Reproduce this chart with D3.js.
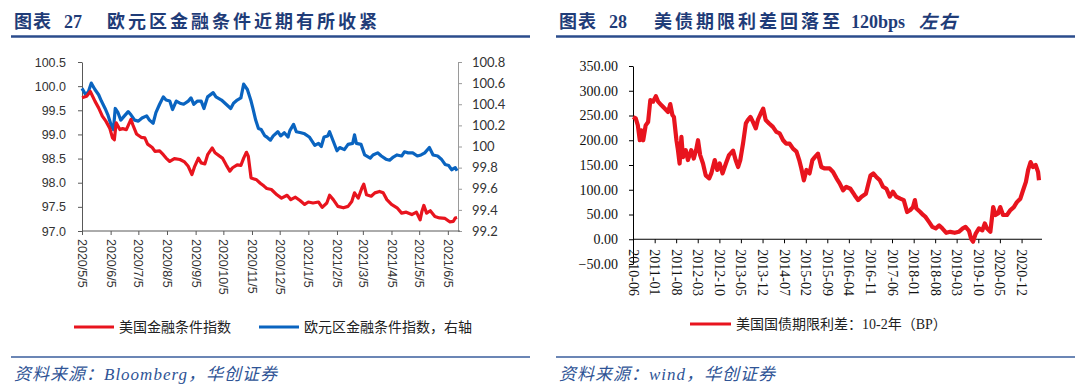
<!DOCTYPE html>
<html lang="zh">
<head>
<meta charset="UTF-8">
<title>图表 27 / 图表 28</title>
<script src="https://d3js.org/d3.v7.min.js"></script>
<style>
  body {
    margin: 0;
    background: #fff;
  }
  .title {
    font-family: "Liberation Serif", "Noto Sans CJK SC", serif;
    font-weight: bold;
    font-size: 18px;
    fill: #1f3c78;
  }
  .source {
    font-family: "Liberation Serif", "Noto Sans CJK SC", serif;
    font-style: italic;
    font-size: 17px;
    letter-spacing: 1px;
    fill: #2f5496;
  }
  .legend {
    font-family: "Liberation Serif", "Noto Sans CJK SC", serif;
    font-size: 14px;
    fill: #222;
  }
</style>
</head>
<body>
<svg id="chart" width="1080" height="384"></svg>

<script>
// ---- data ----

// 图表27: 美国金融条件指数 (left axis)
const usDates = ["2020-05-05","2020-05-10","2020-05-14","2020-05-19","2020-05-23","2020-05-27","2020-05-31","2020-06-04","2020-06-07","2020-06-09","2020-06-11","2020-06-15","2020-06-18","2020-06-22","2020-06-27","2020-06-29","2020-07-03","2020-07-08","2020-07-12","2020-07-15","2020-07-20","2020-07-23","2020-07-28","2020-08-01","2020-08-04","2020-08-08","2020-08-13","2020-08-19","2020-08-24","2020-08-28","2020-09-01","2020-09-04","2020-09-08","2020-09-11","2020-09-15","2020-09-18","2020-09-23","2020-09-26","2020-10-01","2020-10-04","2020-10-08","2020-10-12","2020-10-15","2020-10-20","2020-10-24","2020-10-27","2020-10-30","2020-11-01","2020-11-04","2020-11-10","2020-11-14","2020-11-18","2020-11-21","2020-11-26","2020-12-02","2020-12-07","2020-12-13","2020-12-17","2020-12-22","2020-12-27","2021-01-01","2021-01-05","2021-01-10","2021-01-16","2021-01-20","2021-01-25","2021-01-28","2021-02-01","2021-02-06","2021-02-12","2021-02-17","2021-02-21","2021-02-24","2021-02-28","2021-03-04","2021-03-06","2021-03-09","2021-03-14","2021-03-18","2021-03-23","2021-03-27","2021-03-31","2021-04-05","2021-04-11","2021-04-16","2021-04-21","2021-04-27","2021-05-02","2021-05-06","2021-05-08","2021-05-10","2021-05-13","2021-05-17","2021-05-22","2021-05-27","2021-06-02","2021-06-07","2021-06-11","2021-06-13","2021-06-15"];
const usFci = [99.76,99.79,99.89,99.69,99.55,99.38,99.27,99.13,98.93,98.89,99.24,99.10,99.12,99.10,99.31,99.20,99.01,98.94,98.93,98.80,98.73,98.65,98.66,98.58,98.51,98.44,98.50,98.48,98.43,98.34,98.17,98.34,98.51,98.41,98.39,98.58,98.72,98.62,98.55,98.51,98.37,98.24,98.31,98.37,98.36,98.51,98.63,98.55,98.10,98.06,97.99,97.93,97.88,97.86,97.75,97.68,97.74,97.65,97.70,97.63,97.55,97.60,97.58,97.60,97.49,97.58,97.74,97.65,97.51,97.48,97.51,97.61,97.79,97.68,97.89,97.97,97.75,97.72,97.79,97.82,97.79,97.65,97.55,97.48,97.37,97.39,97.34,97.39,97.23,97.41,97.53,97.37,97.42,97.30,97.27,97.26,97.19,97.20,97.27,97.28];

// 图表27: 欧元区金融条件指数 (right axis)
const euDates = ["2020-05-05","2020-05-09","2020-05-12","2020-05-15","2020-05-19","2020-05-23","2020-05-26","2020-05-30","2020-06-02","2020-06-06","2020-06-08","2020-06-10","2020-06-13","2020-06-16","2020-06-19","2020-06-24","2020-06-27","2020-07-01","2020-07-05","2020-07-09","2020-07-14","2020-07-17","2020-07-21","2020-07-24","2020-07-28","2020-08-01","2020-08-04","2020-08-08","2020-08-11","2020-08-15","2020-08-19","2020-08-23","2020-08-28","2020-08-31","2020-09-03","2020-09-07","2020-09-11","2020-09-14","2020-09-18","2020-09-24","2020-09-27","2020-10-03","2020-10-08","2020-10-13","2020-10-16","2020-10-20","2020-10-24","2020-10-27","2020-10-31","2020-11-04","2020-11-06","2020-11-09","2020-11-12","2020-11-15","2020-11-19","2020-11-21","2020-11-25","2020-11-28","2020-12-03","2020-12-06","2020-12-10","2020-12-14","2020-12-16","2020-12-20","2020-12-23","2020-12-28","2021-01-01","2021-01-06","2021-01-09","2021-01-12","2021-01-16","2021-01-19","2021-01-22","2021-01-26","2021-01-28","2021-02-01","2021-02-05","2021-02-08","2021-02-13","2021-02-17","2021-02-22","2021-02-24","2021-02-26","2021-03-03","2021-03-07","2021-03-13","2021-03-16","2021-03-21","2021-03-25","2021-03-30","2021-04-03","2021-04-07","2021-04-11","2021-04-16","2021-04-19","2021-04-23","2021-04-28","2021-05-03","2021-05-07","2021-05-11","2021-05-16","2021-05-20","2021-05-25","2021-05-29","2021-06-02","2021-06-06","2021-06-09","2021-06-13","2021-06-15"];
const euFci = [100.55,100.49,100.52,100.60,100.54,100.49,100.43,100.36,100.30,100.19,100.16,100.36,100.32,100.25,100.28,100.33,100.30,100.25,100.24,100.27,100.29,100.25,100.22,100.32,100.40,100.47,100.44,100.43,100.35,100.43,100.41,100.40,100.43,100.46,100.40,100.43,100.43,100.36,100.47,100.51,100.47,100.44,100.40,100.36,100.41,100.44,100.46,100.59,100.54,100.43,100.36,100.25,100.17,100.16,100.10,100.09,100.06,100.10,100.14,100.10,100.13,100.09,100.15,100.21,100.14,100.13,100.12,100.09,100.05,100.01,100.03,100.00,100.09,100.10,100.14,100.05,99.96,99.99,99.97,100.02,100.03,100.11,100.03,100.02,99.92,99.89,99.92,99.94,99.91,99.88,99.87,99.90,99.92,99.91,99.95,99.94,99.94,99.91,99.92,99.94,99.99,99.92,99.91,99.88,99.83,99.82,99.78,99.80,99.77];

const fciTickDates = ["2020-05-05","2020-06-05","2020-07-05","2020-08-05","2020-09-05","2020-10-05","2020-11-05","2020-12-05","2021-01-05","2021-02-05","2021-03-05","2021-04-05","2021-05-05","2021-06-05"];
const fciLeftTicks = [97.0, 97.5, 98.0, 98.5, 99.0, 99.5, 100.0, 100.5];
const fciRightTicks = [99.2, 99.4, 99.6, 99.8, 100, 100.2, 100.4, 100.6, 100.8];

// 图表28: 美国国债期限利差 10-2年 (BP)
const spreadDates = ["2010-06-01","2010-06-28","2010-07-19","2010-08-07","2010-08-22","2010-09-10","2010-10-04","2010-10-28","2010-11-19","2010-12-16","2011-01-13","2011-02-04","2011-03-07","2011-04-10","2011-05-13","2011-06-04","2011-06-25","2011-07-10","2011-08-04","2011-08-19","2011-09-04","2011-09-22","2011-10-07","2011-11-04","2011-11-25","2011-12-28","2012-01-22","2012-02-15","2012-03-04","2012-03-25","2012-04-22","2012-05-19","2012-06-22","2012-07-13","2012-08-16","2012-09-10","2012-10-04","2012-11-01","2012-12-04","2013-01-04","2013-02-13","2013-03-10","2013-04-04","2013-04-25","2013-05-22","2013-06-19","2013-07-10","2013-08-04","2013-08-28","2013-09-25","2013-10-16","2013-11-13","2013-12-07","2014-01-01","2014-02-04","2014-03-13","2014-04-16","2014-05-19","2014-06-22","2014-07-22","2014-08-25","2014-09-28","2014-11-01","2014-11-28","2014-12-19","2015-01-13","2015-02-07","2015-03-10","2015-04-07","2015-05-01","2015-06-01","2015-07-04","2015-08-07","2015-09-25","2015-10-28","2015-12-01","2016-01-01","2016-02-04","2016-03-07","2016-04-16","2016-05-28","2016-07-01","2016-08-04","2016-09-16","2016-10-07","2016-11-01","2016-11-28","2016-12-28","2017-02-01","2017-03-04","2017-04-07","2017-05-10","2017-06-10","2017-07-13","2017-08-22","2017-09-25","2017-10-28","2017-11-28","2017-12-25","2018-01-13","2018-01-28","2018-03-07","2018-04-04","2018-04-28","2018-06-01","2018-07-04","2018-08-07","2018-09-10","2018-10-10","2018-11-19","2018-12-28","2019-02-10","2019-03-22","2019-05-01","2019-05-28","2019-07-01","2019-07-22","2019-08-10","2019-09-04","2019-10-07","2019-11-10","2019-12-04","2019-12-25","2020-01-28","2020-02-25","2020-03-19","2020-04-13","2020-05-04","2020-06-01","2020-07-10","2020-08-13","2020-09-16","2020-10-16","2020-11-19","2020-12-16","2021-01-13","2021-02-04","2021-02-28","2021-03-22","2021-04-19","2021-05-13","2021-05-22"];
const spread = [247,244,230,200,220,200,230,237,281,278,289,278,271,264,257,273,251,247,200,180,153,207,166,180,160,180,163,181,200,170,153,129,123,133,160,140,153,133,153,170,179,160,146,160,193,234,241,247,237,224,241,254,264,241,234,227,217,214,200,193,193,183,177,160,143,119,140,133,160,166,173,146,143,143,136,123,113,99,106,102,89,79,86,92,109,129,133,126,119,106,102,86,96,86,82,79,55,59,65,79,62,55,49,45,35,25,22,28,22,13,15,13,15,22,25,17,1,-5,11,22,18,32,22,15,65,49,52,65,49,49,59,65,75,82,99,116,140,156,146,150,136,119];

const spreadTickMonths = ["2010-06","2011-01","2011-08","2012-03","2012-10","2013-05","2013-12","2014-07","2015-02","2015-09","2016-04","2016-11","2017-06","2018-01","2018-08","2019-03","2019-10","2020-05","2020-12"];
const spreadYTicks = [-50, 0, 50, 100, 150, 200, 250, 300, 350];

// ---- drawing ----

const parseDay = d3.timeParse("%Y-%m-%d");
const parseMonth = d3.timeParse("%Y-%m");
const svg = d3.select("#chart");

const red = "#e8141e";
const blue = "#0a64c0";

function header(x0, x1, parts, sourceText) {
  const t = svg.append("text").attr("class", "title").attr("y", 28);
  parts.forEach(p => {
    t.append("tspan")
      .attr("x", p.x)
      .style("letter-spacing", p.ls || "0px")
      .style("font-style", p.italic ? "italic" : null)
      .text(p.text);
  });
  svg.append("line")
    .attr("x1", x0).attr("x2", x1).attr("y1", 36.5).attr("y2", 36.5)
    .attr("stroke", "#2b4c8c").attr("stroke-width", 2.5);
  svg.append("line")
    .attr("x1", x0).attr("x2", x1).attr("y1", 357).attr("y2", 357)
    .attr("stroke", "#3a5e9c").attr("stroke-width", 1.5);
  svg.append("text").attr("class", "source")
    .attr("x", x0 + 3).attr("y", 380)
    .text(sourceText);
}

header(11, 530, [
  {x: 14, text: "图表", ls: "1px"},
  {x: 64, text: "27"},
  {x: 107, text: "欧元区金融条件近期有所收紧", ls: "3px"}
], "资料来源：Bloomberg，华创证券");

header(556, 1075, [
  {x: 559, text: "图表", ls: "1px"},
  {x: 609, text: "28"},
  {x: 654, text: "美债期限利差回落至", ls: "3px"},
  {x: 851, text: "120bps"},
  {x: 919, text: "左右", italic: true, ls: "2px"}
], "资料来源：wind，华创证券");

// ---------- 图表27 ----------

const xF = d3.scaleTime()
  .domain([parseDay("2020-05-05"), parseDay("2021-06-16")])
  .range([82, 458]);
const yL = d3.scaleLinear().domain([97, 100.5]).range([231, 62]);
const yR = d3.scaleLinear().domain([99.2, 100.8]).range([231, 62]);

const gL = svg.append("g").attr("transform", "translate(82,0)")
  .call(d3.axisLeft(yL).tickValues(fciLeftTicks).tickFormat(d3.format(".1f"))
    .tickSizeInner(4).tickSizeOuter(0).tickPadding(12));
gL.selectAll("path, line").attr("stroke", "#595959");
gL.selectAll("text").attr("fill", "#333")
  .style("font-family", "'Liberation Sans', Arial, sans-serif").style("font-size", "12.5px");

const gR = svg.append("g").attr("transform", "translate(458,0)")
  .call(d3.axisRight(yR).tickValues(fciRightTicks).tickFormat(v => String(+v.toFixed(1)))
    .tickSizeInner(4).tickSizeOuter(0).tickPadding(10));
gR.selectAll("path, line").attr("stroke", "#9a9a9a");
gR.selectAll("text").attr("fill", "#333")
  .style("font-family", "Lato, 'Open Sans', sans-serif").style("font-size", "13px");

const gB = svg.append("g").attr("transform", "translate(0,231)")
  .call(d3.axisBottom(xF).tickValues(fciTickDates.map(parseDay))
    .tickFormat(d3.timeFormat("%Y/%-m/%-d")).tickSizeInner(4).tickSizeOuter(0));
gB.select(".domain").attr("d", "M82,0H460");
gB.selectAll("path, line").attr("stroke", "#595959");
gB.selectAll("text")
  .attr("transform", "rotate(90)")
  .attr("x", 8).attr("y", 0).attr("dy", "0.35em")
  .style("text-anchor", "start")
  .attr("fill", "#333")
  .style("font-family", "'Liberation Sans', Arial, sans-serif").style("font-size", "12.5px");

const usRows = usDates.map((d, i) => ({date: parseDay(d), v: usFci[i]}));
const euRows = euDates.map((d, i) => ({date: parseDay(d), v: euFci[i]}));

svg.append("path").datum(euRows)
  .attr("fill", "none").attr("stroke", blue).attr("stroke-width", 3.2)
  .attr("stroke-linejoin", "round")
  .attr("d", d3.line().x(d => xF(d.date)).y(d => yR(d.v)));

svg.append("path").datum(usRows)
  .attr("fill", "none").attr("stroke", red).attr("stroke-width", 3.2)
  .attr("stroke-linejoin", "round")
  .attr("d", d3.line().x(d => xF(d.date)).y(d => yL(d.v)));

// legend
const leg27 = [
  {x: 74, color: red, label: "美国金融条件指数"},
  {x: 259, color: blue, label: "欧元区金融条件指数，右轴"}
];
leg27.forEach(l => {
  svg.append("line").attr("x1", l.x).attr("x2", l.x + 40).attr("y1", 327).attr("y2", 327)
    .attr("stroke", l.color).attr("stroke-width", 3);
  svg.append("text").attr("class", "legend").attr("x", l.x + 45).attr("y", 332).text(l.label);
});

// ---------- 图表28 ----------

const xS = d3.scaleTime()
  .domain([parseDay("2010-06-01"), parseDay("2021-06-01")])
  .range([633, 1040]);
const yS = d3.scaleLinear().domain([-50, 350]).range([264, 66]);

const gSY = svg.append("g").attr("transform", "translate(633,0)")
  .call(d3.axisLeft(yS).tickValues(spreadYTicks).tickFormat(d3.format(".2f"))
    .tickSizeInner(4).tickSizeOuter(0).tickPadding(11));
gSY.selectAll("path, line").attr("stroke", "#000");
gSY.selectAll("text").attr("fill", "#111")
  .style("font-family", "'Liberation Serif', 'Times New Roman', serif").style("font-size", "14px");

const gSX = svg.append("g").attr("transform", `translate(0,${yS(0)})`)
  .call(d3.axisBottom(xS).tickValues(spreadTickMonths.map(parseMonth))
    .tickFormat(d3.timeFormat("%Y-%m")).tickSizeInner(4).tickSizeOuter(0));
gSX.select(".domain").attr("d", "M633,0H1042");
gSX.selectAll("path, line").attr("stroke", "#000");
gSX.selectAll("text")
  .attr("transform", "rotate(90)")
  .attr("x", 10).attr("y", 0).attr("dy", "0.35em")
  .style("text-anchor", "start")
  .attr("fill", "#111")
  .style("font-family", "'Liberation Serif', 'Times New Roman', serif").style("font-size", "14px");

const spreadRows = spreadDates.map((d, i) => ({date: parseDay(d), v: spread[i]}));

svg.append("path").datum(spreadRows)
  .attr("fill", "none").attr("stroke", red).attr("stroke-width", 4.2)
  .attr("stroke-linejoin", "round")
  .attr("d", d3.line().x(d => xS(d.date)).y(d => yS(d.v)));

svg.append("line").attr("x1", 690).attr("x2", 731).attr("y1", 324).attr("y2", 324)
  .attr("stroke", red).attr("stroke-width", 3);
svg.append("text").attr("class", "legend").attr("x", 736).attr("y", 329)
  .text("美国国债期限利差：10-2年（BP）");
</script>

</body>
</html>
